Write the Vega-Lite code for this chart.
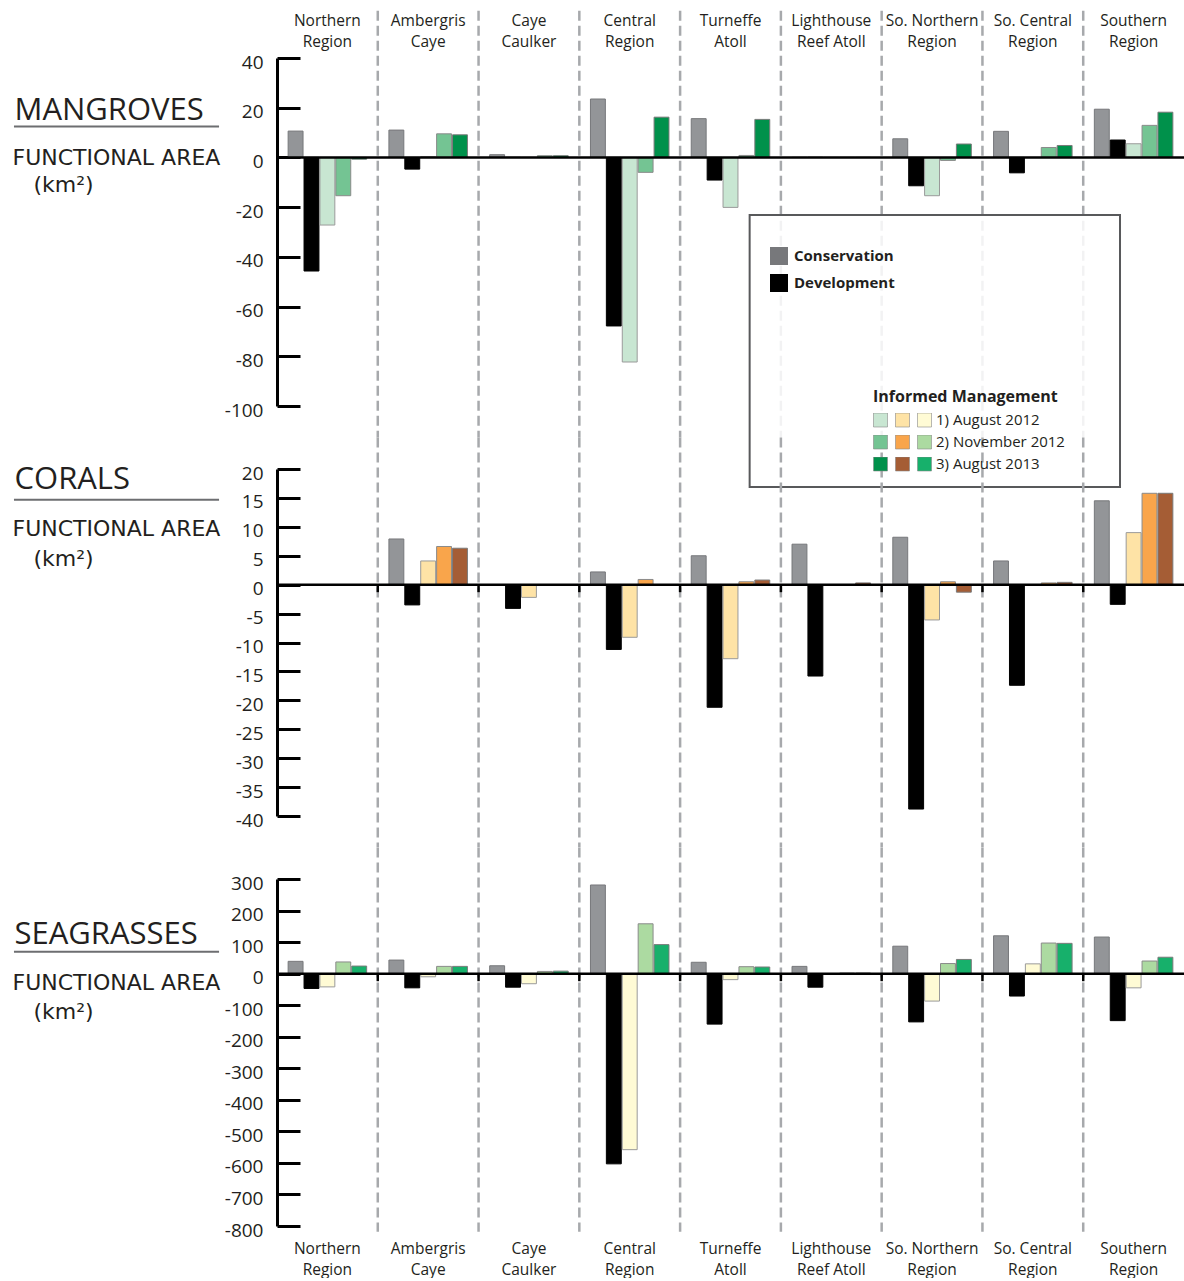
{
  "$schema": "https://vega.github.io/schema/vega-lite/v6.json",
  "background": "white",
  "padding": {"left": 12, "top": 9, "right": 0, "bottom": 0},
  "bounds": "flush",
  "spacing": 63,
  "config": {"font": "Open Sans", "view": {"stroke": null}, "axis": {"grid": false}},
  "datasets": {
    "bounds": [{"r": "Ambergris Caye"}, {"r": "Caye Caulker"}, {"r": "Central Region"}, {"r": "Turneffe Atoll"}, {"r": "Lighthouse Reef Atoll"}, {"r": "So. Northern Region"}, {"r": "So. Central Region"}, {"r": "Southern Region"}],
    "bars": [
      {"h": "Mangroves", "r": "Northern Region", "k": "Conservation", "s": "Conservation", "v": 10.6},
      {"h": "Mangroves", "r": "Northern Region", "k": "Development", "s": "Development", "v": -45.7},
      {"h": "Mangroves", "r": "Northern Region", "k": "IM 1", "s": "Mangroves 1", "v": -27.2},
      {"h": "Mangroves", "r": "Northern Region", "k": "IM 2", "s": "Mangroves 2", "v": -15.4},
      {"h": "Mangroves", "r": "Northern Region", "k": "IM 3", "s": "Mangroves 3", "v": -0.7},
      {"h": "Mangroves", "r": "Ambergris Caye", "k": "Conservation", "s": "Conservation", "v": 11.0},
      {"h": "Mangroves", "r": "Ambergris Caye", "k": "Development", "s": "Development", "v": -4.7},
      {"h": "Mangroves", "r": "Ambergris Caye", "k": "IM 1", "s": "Mangroves 1", "v": 0.3},
      {"h": "Mangroves", "r": "Ambergris Caye", "k": "IM 2", "s": "Mangroves 2", "v": 9.5},
      {"h": "Mangroves", "r": "Ambergris Caye", "k": "IM 3", "s": "Mangroves 3", "v": 9.1},
      {"h": "Mangroves", "r": "Caye Caulker", "k": "Conservation", "s": "Conservation", "v": 1.1},
      {"h": "Mangroves", "r": "Caye Caulker", "k": "Development", "s": "Development", "v": 0},
      {"h": "Mangroves", "r": "Caye Caulker", "k": "IM 1", "s": "Mangroves 1", "v": 0},
      {"h": "Mangroves", "r": "Caye Caulker", "k": "IM 2", "s": "Mangroves 2", "v": 0.7},
      {"h": "Mangroves", "r": "Caye Caulker", "k": "IM 3", "s": "Mangroves 3", "v": 0.7},
      {"h": "Mangroves", "r": "Central Region", "k": "Conservation", "s": "Conservation", "v": 23.5},
      {"h": "Mangroves", "r": "Central Region", "k": "Development", "s": "Development", "v": -67.8},
      {"h": "Mangroves", "r": "Central Region", "k": "IM 1", "s": "Mangroves 1", "v": -82.3},
      {"h": "Mangroves", "r": "Central Region", "k": "IM 2", "s": "Mangroves 2", "v": -6.0},
      {"h": "Mangroves", "r": "Central Region", "k": "IM 3", "s": "Mangroves 3", "v": 16.2},
      {"h": "Mangroves", "r": "Turneffe Atoll", "k": "Conservation", "s": "Conservation", "v": 15.6},
      {"h": "Mangroves", "r": "Turneffe Atoll", "k": "Development", "s": "Development", "v": -9.1},
      {"h": "Mangroves", "r": "Turneffe Atoll", "k": "IM 1", "s": "Mangroves 1", "v": -20.1},
      {"h": "Mangroves", "r": "Turneffe Atoll", "k": "IM 2", "s": "Mangroves 2", "v": 0.8},
      {"h": "Mangroves", "r": "Turneffe Atoll", "k": "IM 3", "s": "Mangroves 3", "v": 15.3},
      {"h": "Mangroves", "r": "Lighthouse Reef Atoll", "k": "Conservation", "s": "Conservation", "v": 0},
      {"h": "Mangroves", "r": "Lighthouse Reef Atoll", "k": "Development", "s": "Development", "v": 0},
      {"h": "Mangroves", "r": "Lighthouse Reef Atoll", "k": "IM 1", "s": "Mangroves 1", "v": 0},
      {"h": "Mangroves", "r": "Lighthouse Reef Atoll", "k": "IM 2", "s": "Mangroves 2", "v": 0},
      {"h": "Mangroves", "r": "Lighthouse Reef Atoll", "k": "IM 3", "s": "Mangroves 3", "v": 0},
      {"h": "Mangroves", "r": "So. Northern Region", "k": "Conservation", "s": "Conservation", "v": 7.5},
      {"h": "Mangroves", "r": "So. Northern Region", "k": "Development", "s": "Development", "v": -11.4},
      {"h": "Mangroves", "r": "So. Northern Region", "k": "IM 1", "s": "Mangroves 1", "v": -15.4},
      {"h": "Mangroves", "r": "So. Northern Region", "k": "IM 2", "s": "Mangroves 2", "v": -1.2},
      {"h": "Mangroves", "r": "So. Northern Region", "k": "IM 3", "s": "Mangroves 3", "v": 5.4},
      {"h": "Mangroves", "r": "So. Central Region", "k": "Conservation", "s": "Conservation", "v": 10.5},
      {"h": "Mangroves", "r": "So. Central Region", "k": "Development", "s": "Development", "v": -6.2},
      {"h": "Mangroves", "r": "So. Central Region", "k": "IM 1", "s": "Mangroves 1", "v": 0},
      {"h": "Mangroves", "r": "So. Central Region", "k": "IM 2", "s": "Mangroves 2", "v": 4.0},
      {"h": "Mangroves", "r": "So. Central Region", "k": "IM 3", "s": "Mangroves 3", "v": 4.8},
      {"h": "Mangroves", "r": "Southern Region", "k": "Conservation", "s": "Conservation", "v": 19.4},
      {"h": "Mangroves", "r": "Southern Region", "k": "Development", "s": "Development", "v": 7.0},
      {"h": "Mangroves", "r": "Southern Region", "k": "IM 1", "s": "Mangroves 1", "v": 5.5},
      {"h": "Mangroves", "r": "Southern Region", "k": "IM 2", "s": "Mangroves 2", "v": 12.9},
      {"h": "Mangroves", "r": "Southern Region", "k": "IM 3", "s": "Mangroves 3", "v": 18.2},

      {"h": "Corals", "r": "Northern Region", "k": "Conservation", "s": "Conservation", "v": 0},
      {"h": "Corals", "r": "Northern Region", "k": "Development", "s": "Development", "v": 0},
      {"h": "Corals", "r": "Northern Region", "k": "IM 1", "s": "Corals 1", "v": 0},
      {"h": "Corals", "r": "Northern Region", "k": "IM 2", "s": "Corals 2", "v": 0},
      {"h": "Corals", "r": "Northern Region", "k": "IM 3", "s": "Corals 3", "v": 0},
      {"h": "Corals", "r": "Ambergris Caye", "k": "Conservation", "s": "Conservation", "v": 7.9},
      {"h": "Corals", "r": "Ambergris Caye", "k": "Development", "s": "Development", "v": -3.5},
      {"h": "Corals", "r": "Ambergris Caye", "k": "IM 1", "s": "Corals 1", "v": 4.1},
      {"h": "Corals", "r": "Ambergris Caye", "k": "IM 2", "s": "Corals 2", "v": 6.6},
      {"h": "Corals", "r": "Ambergris Caye", "k": "IM 3", "s": "Corals 3", "v": 6.3},
      {"h": "Corals", "r": "Caye Caulker", "k": "Conservation", "s": "Conservation", "v": 0},
      {"h": "Corals", "r": "Caye Caulker", "k": "Development", "s": "Development", "v": -4.1},
      {"h": "Corals", "r": "Caye Caulker", "k": "IM 1", "s": "Corals 1", "v": -2.2},
      {"h": "Corals", "r": "Caye Caulker", "k": "IM 2", "s": "Corals 2", "v": 0},
      {"h": "Corals", "r": "Caye Caulker", "k": "IM 3", "s": "Corals 3", "v": 0},
      {"h": "Corals", "r": "Central Region", "k": "Conservation", "s": "Conservation", "v": 2.2},
      {"h": "Corals", "r": "Central Region", "k": "Development", "s": "Development", "v": -11.2},
      {"h": "Corals", "r": "Central Region", "k": "IM 1", "s": "Corals 1", "v": -9.1},
      {"h": "Corals", "r": "Central Region", "k": "IM 2", "s": "Corals 2", "v": 0.9},
      {"h": "Corals", "r": "Central Region", "k": "IM 3", "s": "Corals 3", "v": 0},
      {"h": "Corals", "r": "Turneffe Atoll", "k": "Conservation", "s": "Conservation", "v": 5.0},
      {"h": "Corals", "r": "Turneffe Atoll", "k": "Development", "s": "Development", "v": -21.2},
      {"h": "Corals", "r": "Turneffe Atoll", "k": "IM 1", "s": "Corals 1", "v": -12.8},
      {"h": "Corals", "r": "Turneffe Atoll", "k": "IM 2", "s": "Corals 2", "v": 0.5},
      {"h": "Corals", "r": "Turneffe Atoll", "k": "IM 3", "s": "Corals 3", "v": 0.8},
      {"h": "Corals", "r": "Lighthouse Reef Atoll", "k": "Conservation", "s": "Conservation", "v": 7.0},
      {"h": "Corals", "r": "Lighthouse Reef Atoll", "k": "Development", "s": "Development", "v": -15.8},
      {"h": "Corals", "r": "Lighthouse Reef Atoll", "k": "IM 1", "s": "Corals 1", "v": 0},
      {"h": "Corals", "r": "Lighthouse Reef Atoll", "k": "IM 2", "s": "Corals 2", "v": 0},
      {"h": "Corals", "r": "Lighthouse Reef Atoll", "k": "IM 3", "s": "Corals 3", "v": 0.3},
      {"h": "Corals", "r": "So. Northern Region", "k": "Conservation", "s": "Conservation", "v": 8.2},
      {"h": "Corals", "r": "So. Northern Region", "k": "Development", "s": "Development", "v": -38.8},
      {"h": "Corals", "r": "So. Northern Region", "k": "IM 1", "s": "Corals 1", "v": -6.1},
      {"h": "Corals", "r": "So. Northern Region", "k": "IM 2", "s": "Corals 2", "v": 0.5},
      {"h": "Corals", "r": "So. Northern Region", "k": "IM 3", "s": "Corals 3", "v": -1.3},
      {"h": "Corals", "r": "So. Central Region", "k": "Conservation", "s": "Conservation", "v": 4.1},
      {"h": "Corals", "r": "So. Central Region", "k": "Development", "s": "Development", "v": -17.4},
      {"h": "Corals", "r": "So. Central Region", "k": "IM 1", "s": "Corals 1", "v": 0},
      {"h": "Corals", "r": "So. Central Region", "k": "IM 2", "s": "Corals 2", "v": 0.3},
      {"h": "Corals", "r": "So. Central Region", "k": "IM 3", "s": "Corals 3", "v": 0.4},
      {"h": "Corals", "r": "Southern Region", "k": "Conservation", "s": "Conservation", "v": 14.5},
      {"h": "Corals", "r": "Southern Region", "k": "Development", "s": "Development", "v": -3.4},
      {"h": "Corals", "r": "Southern Region", "k": "IM 1", "s": "Corals 1", "v": 9.0},
      {"h": "Corals", "r": "Southern Region", "k": "IM 2", "s": "Corals 2", "v": 15.8},
      {"h": "Corals", "r": "Southern Region", "k": "IM 3", "s": "Corals 3", "v": 15.8},

      {"h": "Seagrasses", "r": "Northern Region", "k": "Conservation", "s": "Conservation", "v": 39},
      {"h": "Seagrasses", "r": "Northern Region", "k": "Development", "s": "Development", "v": -47},
      {"h": "Seagrasses", "r": "Northern Region", "k": "IM 1", "s": "Seagrasses 1", "v": -42},
      {"h": "Seagrasses", "r": "Northern Region", "k": "IM 2", "s": "Seagrasses 2", "v": 37},
      {"h": "Seagrasses", "r": "Northern Region", "k": "IM 3", "s": "Seagrasses 3", "v": 24},
      {"h": "Seagrasses", "r": "Ambergris Caye", "k": "Conservation", "s": "Conservation", "v": 43},
      {"h": "Seagrasses", "r": "Ambergris Caye", "k": "Development", "s": "Development", "v": -45},
      {"h": "Seagrasses", "r": "Ambergris Caye", "k": "IM 1", "s": "Seagrasses 1", "v": -10},
      {"h": "Seagrasses", "r": "Ambergris Caye", "k": "IM 2", "s": "Seagrasses 2", "v": 23},
      {"h": "Seagrasses", "r": "Ambergris Caye", "k": "IM 3", "s": "Seagrasses 3", "v": 23},
      {"h": "Seagrasses", "r": "Caye Caulker", "k": "Conservation", "s": "Conservation", "v": 25},
      {"h": "Seagrasses", "r": "Caye Caulker", "k": "Development", "s": "Development", "v": -43},
      {"h": "Seagrasses", "r": "Caye Caulker", "k": "IM 1", "s": "Seagrasses 1", "v": -32},
      {"h": "Seagrasses", "r": "Caye Caulker", "k": "IM 2", "s": "Seagrasses 2", "v": 7},
      {"h": "Seagrasses", "r": "Caye Caulker", "k": "IM 3", "s": "Seagrasses 3", "v": 8},
      {"h": "Seagrasses", "r": "Central Region", "k": "Conservation", "s": "Conservation", "v": 281},
      {"h": "Seagrasses", "r": "Central Region", "k": "Development", "s": "Development", "v": -603},
      {"h": "Seagrasses", "r": "Central Region", "k": "IM 1", "s": "Seagrasses 1", "v": -558},
      {"h": "Seagrasses", "r": "Central Region", "k": "IM 2", "s": "Seagrasses 2", "v": 158},
      {"h": "Seagrasses", "r": "Central Region", "k": "IM 3", "s": "Seagrasses 3", "v": 92},
      {"h": "Seagrasses", "r": "Turneffe Atoll", "k": "Conservation", "s": "Conservation", "v": 36},
      {"h": "Seagrasses", "r": "Turneffe Atoll", "k": "Development", "s": "Development", "v": -160},
      {"h": "Seagrasses", "r": "Turneffe Atoll", "k": "IM 1", "s": "Seagrasses 1", "v": -19},
      {"h": "Seagrasses", "r": "Turneffe Atoll", "k": "IM 2", "s": "Seagrasses 2", "v": 22},
      {"h": "Seagrasses", "r": "Turneffe Atoll", "k": "IM 3", "s": "Seagrasses 3", "v": 21},
      {"h": "Seagrasses", "r": "Lighthouse Reef Atoll", "k": "Conservation", "s": "Conservation", "v": 23},
      {"h": "Seagrasses", "r": "Lighthouse Reef Atoll", "k": "Development", "s": "Development", "v": -43},
      {"h": "Seagrasses", "r": "Lighthouse Reef Atoll", "k": "IM 1", "s": "Seagrasses 1", "v": 0},
      {"h": "Seagrasses", "r": "Lighthouse Reef Atoll", "k": "IM 2", "s": "Seagrasses 2", "v": 2},
      {"h": "Seagrasses", "r": "Lighthouse Reef Atoll", "k": "IM 3", "s": "Seagrasses 3", "v": 2},
      {"h": "Seagrasses", "r": "So. Northern Region", "k": "Conservation", "s": "Conservation", "v": 87},
      {"h": "Seagrasses", "r": "So. Northern Region", "k": "Development", "s": "Development", "v": -153},
      {"h": "Seagrasses", "r": "So. Northern Region", "k": "IM 1", "s": "Seagrasses 1", "v": -87},
      {"h": "Seagrasses", "r": "So. Northern Region", "k": "IM 2", "s": "Seagrasses 2", "v": 32},
      {"h": "Seagrasses", "r": "So. Northern Region", "k": "IM 3", "s": "Seagrasses 3", "v": 45},
      {"h": "Seagrasses", "r": "So. Central Region", "k": "Conservation", "s": "Conservation", "v": 120},
      {"h": "Seagrasses", "r": "So. Central Region", "k": "Development", "s": "Development", "v": -71},
      {"h": "Seagrasses", "r": "So. Central Region", "k": "IM 1", "s": "Seagrasses 1", "v": 31},
      {"h": "Seagrasses", "r": "So. Central Region", "k": "IM 2", "s": "Seagrasses 2", "v": 97},
      {"h": "Seagrasses", "r": "So. Central Region", "k": "IM 3", "s": "Seagrasses 3", "v": 96},
      {"h": "Seagrasses", "r": "Southern Region", "k": "Conservation", "s": "Conservation", "v": 116},
      {"h": "Seagrasses", "r": "Southern Region", "k": "Development", "s": "Development", "v": -149},
      {"h": "Seagrasses", "r": "Southern Region", "k": "IM 1", "s": "Seagrasses 1", "v": -45},
      {"h": "Seagrasses", "r": "Southern Region", "k": "IM 2", "s": "Seagrasses 2", "v": 40},
      {"h": "Seagrasses", "r": "Southern Region", "k": "IM 3", "s": "Seagrasses 3", "v": 52}
    ]
  },
  "vconcat": [
    {
      "width": 907,
      "height": 348,
      "resolve": {"axis": {"y": "independent"}},
      "layer": [
        {
          "data": {"name": "bounds"},
          "mark": {"type": "rule", "stroke": "#a7a9ac", "strokeWidth": 2.5, "strokeDash": [10, 5], "clip": false},
          "encoding": {
            "x": {"field": "r", "type": "nominal", "bandPosition": 0, "scale": {"type": "band", "domain": ["Northern Region", "Ambergris Caye", "Caye Caulker", "Central Region", "Turneffe Atoll", "Lighthouse Reef Atoll", "So. Northern Region", "So. Central Region", "Southern Region"], "paddingInner": 0, "paddingOuter": 0},
              "axis": {"orient": "top", "title": null, "domain": false, "ticks": false, "labelAngle": 0, "labelOverlap": false, "labelFontSize": 15.5, "labelColor": "#231f20", "labelLineHeight": 21, "labelPadding": 30, "labelExpr": "datum.value == 'Lighthouse Reef Atoll' ? ['Lighthouse', 'Reef Atoll'] : [slice(datum.value, 0, lastindexof(datum.value, ' ')), slice(datum.value, lastindexof(datum.value, ' ') + 1)]"}},
            "y": {"datum": 59, "type": "quantitative", "scale": {"domain": [-100, 40], "nice": false}, "axis": null},
            "y2": {"datum": -112.7}
          }
        },
        {
          "data": {"name": "bars"},
          "transform": [{"filter": "datum.h == 'Mangroves'"}],
          "mark": {"type": "bar", "strokeWidth": 1},
          "encoding": {
            "x": {"field": "r", "type": "nominal", "scale": {"type": "band", "domain": ["Northern Region", "Ambergris Caye", "Caye Caulker", "Central Region", "Turneffe Atoll", "Lighthouse Reef Atoll", "So. Northern Region", "So. Central Region", "Southern Region"], "paddingInner": 0, "paddingOuter": 0},
              "axis": {"orient": "top", "title": null, "domain": false, "ticks": false, "labelAngle": 0, "labelOverlap": false, "labelFontSize": 15.5, "labelColor": "#231f20", "labelLineHeight": 21, "labelPadding": 30, "labelExpr": "datum.value == 'Lighthouse Reef Atoll' ? ['Lighthouse', 'Reef Atoll'] : [slice(datum.value, 0, lastindexof(datum.value, ' ')), slice(datum.value, lastindexof(datum.value, ' ') + 1)]"}},
            "xOffset": {"field": "k", "type": "nominal", "scale": {"domain": ["Conservation", "Development", "IM 1", "IM 2", "IM 3"], "paddingInner": 0.0625, "paddingOuter": 0.7}},
            "y": {"field": "v", "type": "quantitative", "scale": {"domain": [-100, 40], "nice": false},
              "axis": {"orient": "left", "values": [40, 20, 0, -20, -40, -60, -80, -100], "labelExpr": "'' + datum.value", "domainColor": "black", "domainWidth": 3, "tickColor": "black", "tickWidth": 3, "tickSize": -23, "labelPadding": 37, "labelFontSize": 19, "labelColor": "#231f20", "labelBaseline": "middle", "labelOffset": 4, "grid": false,
                "title": ["FUNCTIONAL AREA", "\u200b\u00a0\u00a0\u00a0(km²)"], "titleFont": "DejaVu Sans", "titleFontSize": 22, "titleFontWeight": "normal", "titleColor": "#231f20", "titleAngle": 0, "titleAlign": "left", "titleBaseline": "alphabetic", "titleX": -265, "titleY": 106, "titleLineHeight": 27}},
            "fill": {"field": "s", "type": "nominal",
              "scale": {"domain": ["Conservation", "Development", "Mangroves 1", "Mangroves 2", "Mangroves 3", "Corals 1", "Corals 2", "Corals 3", "Seagrasses 1", "Seagrasses 2", "Seagrasses 3"], "range": ["#939598", "#000000", "#c8e6d2", "#74c493", "#00914b", "#fee3a6", "#f9a54b", "#a55d35", "#fffbd5", "#acdaa1", "#17b06b"]},
              "legend": {"orient": "none", "legendX": 596, "legendY": 331, "padding": 0, "title": "Informed Management", "titleLimit": 400, "titleFontSize": 16, "titleFontWeight": "bold", "titleColor": "#231f20", "titlePadding": 8, "values": ["Mangroves 1", "Mangroves 2", "Mangroves 3", "Corals 1", "Corals 2", "Corals 3", "Seagrasses 1", "Seagrasses 2", "Seagrasses 3"], "columns": 3, "gridAlign": "each", "columnPadding": 3, "rowPadding": 7, "clipHeight": 14, "symbolType": "square", "symbolSize": 196, "symbolStrokeColor": "#888888", "symbolStrokeWidth": 0.6, "labelOffset": 4, "labelFontSize": 15, "labelColor": "#231f20", "labelLimit": 300, "labelExpr": "datum.value == 'Seagrasses 1' ? '1) August 2012' : datum.value == 'Seagrasses 2' ? '2) November 2012' : datum.value == 'Seagrasses 3' ? '3) August 2013' : ''"}},
            "stroke": {"field": "k", "type": "nominal",
              "scale": {"domain": ["Conservation", "Development", "IM 1", "IM 2", "IM 3"], "range": ["#77787b", "#000000", "#9a9a9a", "#8a8a8a", "#7a7a7a"]},
              "legend": {"orient": "none", "legendX": 493, "legendY": 189, "padding": 0, "title": null, "values": ["Conservation", "Development"], "clipHeight": 18, "symbolType": "square", "symbolSize": 64, "symbolStrokeWidth": 10, "labelOffset": 6, "labelFontSize": 15, "labelFontWeight": "bold", "labelColor": "#231f20", "rowPadding": 9}}
          }
        },
        {
          "data": {"values": [{}]},
          "mark": {"type": "rule", "stroke": "black", "strokeWidth": 2.5},
          "encoding": {
            "y": {"datum": 0, "type": "quantitative", "scale": {"domain": [-100, 40], "nice": false},
              "axis": {"orient": "left", "domain": false, "ticks": false, "labels": false, "grid": false, "title": "MANGROVES", "titleFontSize": 31, "titleFontWeight": "normal", "titleColor": "#231f20", "titleAngle": 0, "titleAlign": "left", "titleBaseline": "alphabetic", "titleX": -263, "titleY": 61}}
          }
        },
        {
          "data": {"values": [{}]},
          "mark": {"type": "rule", "stroke": "#6d6e71", "strokeWidth": 2, "clip": false},
          "encoding": {
            "x": {"datum": "Northern Region", "type": "nominal", "bandPosition": -2.61, "scale": {"type": "band", "domain": ["Northern Region", "Ambergris Caye", "Caye Caulker", "Central Region", "Turneffe Atoll", "Lighthouse Reef Atoll", "So. Northern Region", "So. Central Region", "Southern Region"], "paddingInner": 0, "paddingOuter": 0},
              "axis": {"orient": "top", "title": null, "domain": false, "ticks": false, "labelAngle": 0, "labelOverlap": false, "labelFontSize": 15.5, "labelColor": "#231f20", "labelLineHeight": 21, "labelPadding": 30, "labelExpr": "datum.value == 'Lighthouse Reef Atoll' ? ['Lighthouse', 'Reef Atoll'] : [slice(datum.value, 0, lastindexof(datum.value, ' ')), slice(datum.value, lastindexof(datum.value, ' ') + 1)]"}},
            "x2": {"datum": "Northern Region", "bandPosition": -0.575},
            "y": {"datum": 12.4, "type": "quantitative", "scale": {"domain": [-100, 40], "nice": false}, "axis": null}
          }
        },
        {
          "data": {"values": [{}]},
          "mark": {"type": "rect", "fill": "white", "fillOpacity": 0.85, "stroke": "#58595b", "strokeWidth": 2, "clip": false},
          "encoding": {
            "x": {"datum": "Turneffe Atoll", "type": "nominal", "bandPosition": 0.69, "scale": {"type": "band", "domain": ["Northern Region", "Ambergris Caye", "Caye Caulker", "Central Region", "Turneffe Atoll", "Lighthouse Reef Atoll", "So. Northern Region", "So. Central Region", "Southern Region"], "paddingInner": 0, "paddingOuter": 0},
              "axis": {"orient": "top", "title": null, "domain": false, "ticks": false, "labelAngle": 0, "labelOverlap": false, "labelFontSize": 15.5, "labelColor": "#231f20", "labelLineHeight": 21, "labelPadding": 30, "labelExpr": "datum.value == 'Lighthouse Reef Atoll' ? ['Lighthouse', 'Reef Atoll'] : [slice(datum.value, 0, lastindexof(datum.value, ' ')), slice(datum.value, lastindexof(datum.value, ' ') + 1)]"}},
            "x2": {"datum": "Southern Region", "bandPosition": 0.365},
            "y": {"datum": -23.2, "type": "quantitative", "scale": {"domain": [-100, 40], "nice": false}, "axis": null},
            "y2": {"datum": -132.6}
          }
        }
      ]
    },
    {
      "width": 907,
      "height": 347,
      "resolve": {"axis": {"y": "independent"}},
      "layer": [
        {
          "data": {"name": "bounds"},
          "mark": {"type": "rule", "stroke": "#a7a9ac", "strokeWidth": 2.5, "strokeDash": [10, 5], "clip": false},
          "encoding": {
            "x": {"field": "r", "type": "nominal", "bandPosition": 0, "scale": {"type": "band", "domain": ["Northern Region", "Ambergris Caye", "Caye Caulker", "Central Region", "Turneffe Atoll", "Lighthouse Reef Atoll", "So. Northern Region", "So. Central Region", "Southern Region"], "paddingInner": 0, "paddingOuter": 0}, "axis": null},
            "y": {"datum": 25.45, "type": "quantitative", "scale": {"domain": [-40, 20], "nice": false}, "axis": null},
            "y2": {"datum": -45.4}
          }
        },
        {
          "data": {"name": "bars"},
          "transform": [{"filter": "datum.h == 'Corals'"}],
          "mark": {"type": "bar", "strokeWidth": 1},
          "encoding": {
            "x": {"field": "r", "type": "nominal", "scale": {"type": "band", "domain": ["Northern Region", "Ambergris Caye", "Caye Caulker", "Central Region", "Turneffe Atoll", "Lighthouse Reef Atoll", "So. Northern Region", "So. Central Region", "Southern Region"], "paddingInner": 0, "paddingOuter": 0}, "axis": null},
            "xOffset": {"field": "k", "type": "nominal", "scale": {"domain": ["Conservation", "Development", "IM 1", "IM 2", "IM 3"], "paddingInner": 0.0625, "paddingOuter": 0.7}},
            "y": {"field": "v", "type": "quantitative", "scale": {"domain": [-40, 20], "nice": false},
              "axis": {"orient": "left", "values": [20, 15, 10, 5, 0, -5, -10, -15, -20, -25, -30, -35, -40], "labelExpr": "'' + datum.value", "domainColor": "black", "domainWidth": 3, "tickColor": "black", "tickWidth": 3, "tickSize": -23, "labelPadding": 37, "labelFontSize": 19, "labelColor": "#231f20", "labelBaseline": "middle", "labelOffset": 4, "grid": false,
                "title": ["FUNCTIONAL AREA", "\u200b\u00a0\u00a0\u00a0(km²)"], "titleFont": "DejaVu Sans", "titleFontSize": 22, "titleFontWeight": "normal", "titleColor": "#231f20", "titleAngle": 0, "titleAlign": "left", "titleBaseline": "alphabetic", "titleX": -265, "titleY": 66, "titleLineHeight": 30}},
            "fill": {"field": "s", "type": "nominal",
              "scale": {"domain": ["Conservation", "Development", "Mangroves 1", "Mangroves 2", "Mangroves 3", "Corals 1", "Corals 2", "Corals 3", "Seagrasses 1", "Seagrasses 2", "Seagrasses 3"], "range": ["#939598", "#000000", "#c8e6d2", "#74c493", "#00914b", "#fee3a6", "#f9a54b", "#a55d35", "#fffbd5", "#acdaa1", "#17b06b"]}, "legend": null},
            "stroke": {"field": "k", "type": "nominal",
              "scale": {"domain": ["Conservation", "Development", "IM 1", "IM 2", "IM 3"], "range": ["#77787b", "#000000", "#9a9a9a", "#8a8a8a", "#7a7a7a"]}, "legend": null}
          }
        },
        {
          "data": {"values": [{}]},
          "mark": {"type": "rule", "stroke": "black", "strokeWidth": 2.5},
          "encoding": {
            "y": {"datum": 0, "type": "quantitative", "scale": {"domain": [-40, 20], "nice": false},
              "axis": {"orient": "left", "domain": false, "ticks": false, "labels": false, "grid": false, "title": "CORALS", "titleFontSize": 31, "titleFontWeight": "normal", "titleColor": "#231f20", "titleAngle": 0, "titleAlign": "left", "titleBaseline": "alphabetic", "titleX": -263, "titleY": 19}}
          }
        },
        {
          "data": {"values": [{}]},
          "mark": {"type": "rule", "stroke": "#6d6e71", "strokeWidth": 2, "clip": false},
          "encoding": {
            "x": {"datum": "Northern Region", "type": "nominal", "bandPosition": -2.61, "scale": {"type": "band", "domain": ["Northern Region", "Ambergris Caye", "Caye Caulker", "Central Region", "Turneffe Atoll", "Lighthouse Reef Atoll", "So. Northern Region", "So. Central Region", "Southern Region"], "paddingInner": 0, "paddingOuter": 0}, "axis": null},
            "x2": {"datum": "Northern Region", "bandPosition": -0.575},
            "y": {"datum": 14.7, "type": "quantitative", "scale": {"domain": [-40, 20], "nice": false}, "axis": null}
          }
        },
        {
          "data": {"name": "bounds"},
          "mark": {"type": "rule", "stroke": "black", "strokeWidth": 2.5},
          "encoding": {
            "x": {"field": "r", "type": "nominal", "bandPosition": 0, "scale": {"type": "band", "domain": ["Northern Region", "Ambergris Caye", "Caye Caulker", "Central Region", "Turneffe Atoll", "Lighthouse Reef Atoll", "So. Northern Region", "So. Central Region", "Southern Region"], "paddingInner": 0, "paddingOuter": 0}, "axis": null},
            "y": {"datum": 0, "type": "quantitative", "scale": {"domain": [-40, 20], "nice": false}, "axis": null},
            "y2": {"datum": -1.3}
          }
        }
      ]
    },
    {
      "width": 907,
      "height": 347,
      "resolve": {"axis": {"y": "independent"}},
      "layer": [
        {
          "data": {"name": "bounds"},
          "mark": {"type": "rule", "stroke": "#a7a9ac", "strokeWidth": 2.5, "strokeDash": [10, 5], "clip": false},
          "encoding": {
            "x": {"field": "r", "type": "nominal", "bandPosition": 0, "scale": {"type": "band", "domain": ["Northern Region", "Ambergris Caye", "Caye Caulker", "Central Region", "Turneffe Atoll", "Lighthouse Reef Atoll", "So. Northern Region", "So. Central Region", "Southern Region"], "paddingInner": 0, "paddingOuter": 0},
              "axis": {"orient": "bottom", "title": null, "domain": false, "ticks": false, "labelAngle": 0, "labelOverlap": false, "labelFontSize": 15.5, "labelColor": "#231f20", "labelLineHeight": 21, "labelPadding": 15, "labelExpr": "datum.value == 'Lighthouse Reef Atoll' ? ['Lighthouse', 'Reef Atoll'] : [slice(datum.value, 0, lastindexof(datum.value, ' ')), slice(datum.value, lastindexof(datum.value, ' ') + 1)]"}},
            "y": {"datum": 399.7, "type": "quantitative", "scale": {"domain": [-800, 300], "nice": false}, "axis": null},
            "y2": {"datum": -818}
          }
        },
        {
          "data": {"name": "bars"},
          "transform": [{"filter": "datum.h == 'Seagrasses'"}],
          "mark": {"type": "bar", "strokeWidth": 1},
          "encoding": {
            "x": {"field": "r", "type": "nominal", "scale": {"type": "band", "domain": ["Northern Region", "Ambergris Caye", "Caye Caulker", "Central Region", "Turneffe Atoll", "Lighthouse Reef Atoll", "So. Northern Region", "So. Central Region", "Southern Region"], "paddingInner": 0, "paddingOuter": 0},
              "axis": {"orient": "bottom", "title": null, "domain": false, "ticks": false, "labelAngle": 0, "labelOverlap": false, "labelFontSize": 15.5, "labelColor": "#231f20", "labelLineHeight": 21, "labelPadding": 15, "labelExpr": "datum.value == 'Lighthouse Reef Atoll' ? ['Lighthouse', 'Reef Atoll'] : [slice(datum.value, 0, lastindexof(datum.value, ' ')), slice(datum.value, lastindexof(datum.value, ' ') + 1)]"}},
            "xOffset": {"field": "k", "type": "nominal", "scale": {"domain": ["Conservation", "Development", "IM 1", "IM 2", "IM 3"], "paddingInner": 0.0625, "paddingOuter": 0.7}},
            "y": {"field": "v", "type": "quantitative", "scale": {"domain": [-800, 300], "nice": false},
              "axis": {"orient": "left", "values": [300, 200, 100, 0, -100, -200, -300, -400, -500, -600, -700, -800], "labelExpr": "'' + datum.value", "domainColor": "black", "domainWidth": 3, "tickColor": "black", "tickWidth": 3, "tickSize": -23, "labelPadding": 37, "labelFontSize": 19, "labelColor": "#231f20", "labelBaseline": "middle", "labelOffset": 4, "grid": false,
                "title": ["FUNCTIONAL AREA", "\u200b\u00a0\u00a0\u00a0(km²)"], "titleFont": "DejaVu Sans", "titleFontSize": 22, "titleFontWeight": "normal", "titleColor": "#231f20", "titleAngle": 0, "titleAlign": "left", "titleBaseline": "alphabetic", "titleX": -265, "titleY": 110, "titleLineHeight": 29}},
            "fill": {"field": "s", "type": "nominal",
              "scale": {"domain": ["Conservation", "Development", "Mangroves 1", "Mangroves 2", "Mangroves 3", "Corals 1", "Corals 2", "Corals 3", "Seagrasses 1", "Seagrasses 2", "Seagrasses 3"], "range": ["#939598", "#000000", "#c8e6d2", "#74c493", "#00914b", "#fee3a6", "#f9a54b", "#a55d35", "#fffbd5", "#acdaa1", "#17b06b"]}, "legend": null},
            "stroke": {"field": "k", "type": "nominal",
              "scale": {"domain": ["Conservation", "Development", "IM 1", "IM 2", "IM 3"], "range": ["#77787b", "#000000", "#9a9a9a", "#8a8a8a", "#7a7a7a"]}, "legend": null}
          }
        },
        {
          "data": {"values": [{}]},
          "mark": {"type": "rule", "stroke": "black", "strokeWidth": 2.5},
          "encoding": {
            "y": {"datum": 0, "type": "quantitative", "scale": {"domain": [-800, 300], "nice": false},
              "axis": {"orient": "left", "domain": false, "ticks": false, "labels": false, "grid": false, "title": "SEAGRASSES", "titleFontSize": 31, "titleFontWeight": "normal", "titleColor": "#231f20", "titleAngle": 0, "titleAlign": "left", "titleBaseline": "alphabetic", "titleX": -263, "titleY": 64}}
          }
        },
        {
          "data": {"values": [{}]},
          "mark": {"type": "rule", "stroke": "#6d6e71", "strokeWidth": 2, "clip": false},
          "encoding": {
            "x": {"datum": "Northern Region", "type": "nominal", "bandPosition": -2.61, "scale": {"type": "band", "domain": ["Northern Region", "Ambergris Caye", "Caye Caulker", "Central Region", "Turneffe Atoll", "Lighthouse Reef Atoll", "So. Northern Region", "So. Central Region", "Southern Region"], "paddingInner": 0, "paddingOuter": 0},
              "axis": {"orient": "bottom", "title": null, "domain": false, "ticks": false, "labelAngle": 0, "labelOverlap": false, "labelFontSize": 15.5, "labelColor": "#231f20", "labelLineHeight": 21, "labelPadding": 15, "labelExpr": "datum.value == 'Lighthouse Reef Atoll' ? ['Lighthouse', 'Reef Atoll'] : [slice(datum.value, 0, lastindexof(datum.value, ' ')), slice(datum.value, lastindexof(datum.value, ' ') + 1)]"}},
            "x2": {"datum": "Northern Region", "bandPosition": -0.575},
            "y": {"datum": 69.4, "type": "quantitative", "scale": {"domain": [-800, 300], "nice": false}, "axis": null}
          }
        },
        {
          "data": {"name": "bounds"},
          "mark": {"type": "rule", "stroke": "black", "strokeWidth": 2.5},
          "encoding": {
            "x": {"field": "r", "type": "nominal", "bandPosition": 0, "scale": {"type": "band", "domain": ["Northern Region", "Ambergris Caye", "Caye Caulker", "Central Region", "Turneffe Atoll", "Lighthouse Reef Atoll", "So. Northern Region", "So. Central Region", "Southern Region"], "paddingInner": 0, "paddingOuter": 0},
              "axis": {"orient": "bottom", "title": null, "domain": false, "ticks": false, "labelAngle": 0, "labelOverlap": false, "labelFontSize": 15.5, "labelColor": "#231f20", "labelLineHeight": 21, "labelPadding": 15, "labelExpr": "datum.value == 'Lighthouse Reef Atoll' ? ['Lighthouse', 'Reef Atoll'] : [slice(datum.value, 0, lastindexof(datum.value, ' ')), slice(datum.value, lastindexof(datum.value, ' ') + 1)]"}},
            "y": {"datum": 0, "type": "quantitative", "scale": {"domain": [-800, 300], "nice": false}, "axis": null},
            "y2": {"datum": -24}
          }
        }
      ]
    }
  ]
}
